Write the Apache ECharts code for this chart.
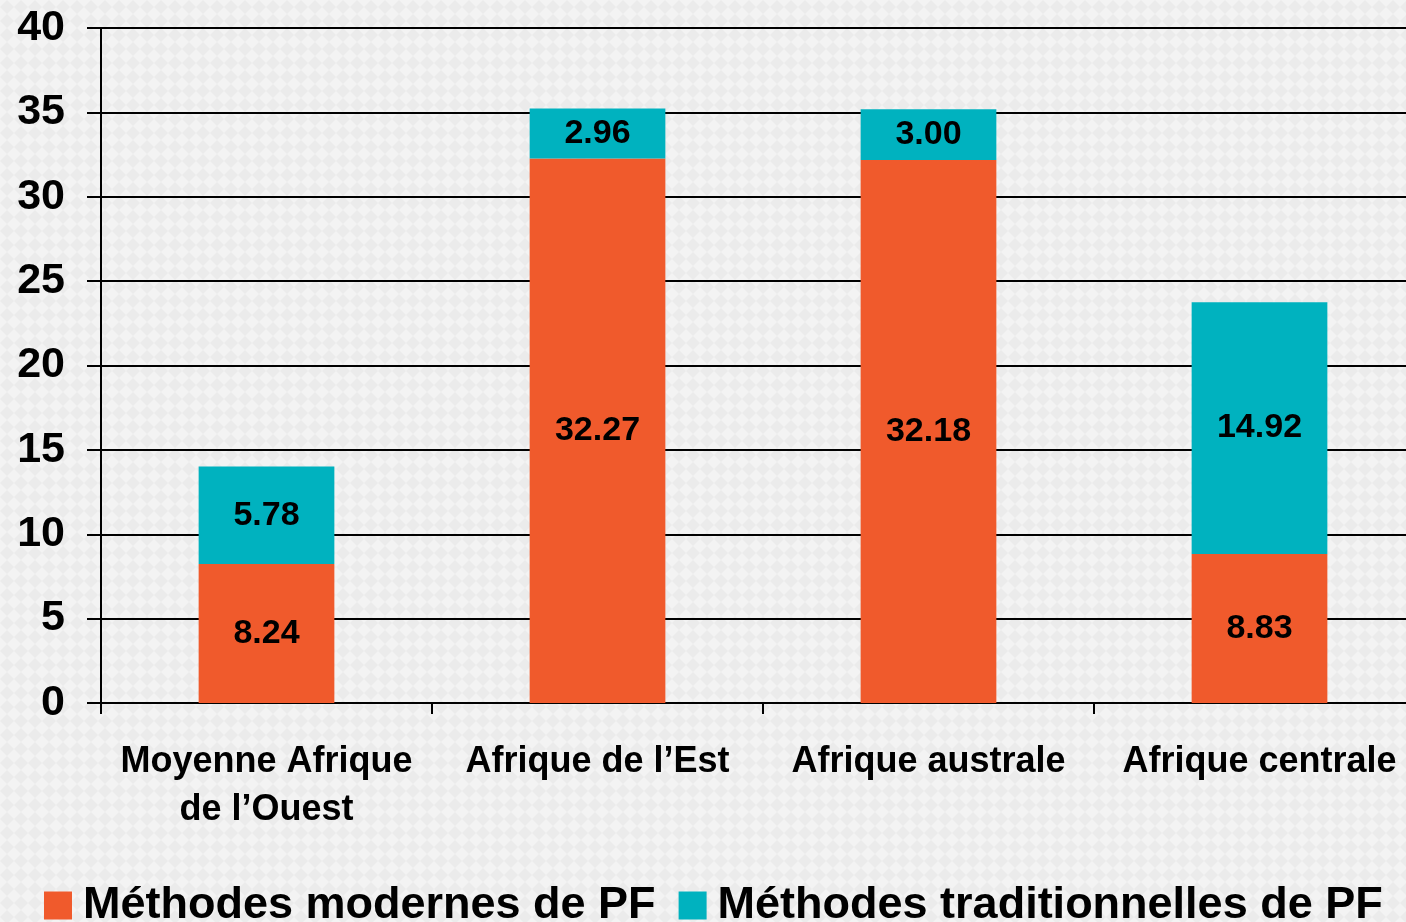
<!DOCTYPE html>
<html lang="fr">
<head>
    <meta charset="UTF-8">
    <title>Méthodes de PF</title>
    <script src="https://cdn.jsdelivr.net/npm/echarts@6/dist/echarts.min.js"></script>
    <style>
        html, body {
            margin: 0;
            height: 100%;
        }
        #main {
            width: 1406px;
            height: 922px;
        }
    </style>
</head>
<body>
<div id="main"></div>
<script>
    // données
    var regions = ['Moyenne Afrique\nde l\u2019Ouest', 'Afrique de l\u2019Est', 'Afrique australe', 'Afrique centrale'];
    var modernes = [8.24, 32.27, 32.18, 8.83];
    var traditionnelles = [5.78, 2.96, 3.00, 14.92];
    var seriesNames = ['Méthodes modernes de PF', 'Méthodes traditionnelles de PF'];

    // petit motif de fond en damier diagonal
    function makePattern() {
        var c = document.createElement('canvas');
        c.width = 14;
        c.height = 14;
        var ctx = c.getContext('2d');
        ctx.fillStyle = '#f3f3f3';
        ctx.fillRect(0, 0, 14, 14);
        ctx.fillStyle = '#ebebeb';
        ctx.beginPath();
        ctx.moveTo(7, 0);
        ctx.lineTo(14, 7);
        ctx.lineTo(7, 14);
        ctx.lineTo(0, 7);
        ctx.closePath();
        ctx.fill();
        return c;
    }

    var myChart = echarts.init(document.getElementById('main'));

    var labelStyle = {
        show: true,
        position: 'inside',
        color: '#000',
        fontFamily: 'Liberation Sans',
        fontWeight: 'bold',
        fontSize: 34,
        padding: [3, 0, 0, 0],
        formatter: function (p) {
            return p.value.toFixed(2);
        }
    };

    var option = {
        backgroundColor: {image: makePattern(), repeat: 'repeat'},
        animation: false,
        textStyle: {fontFamily: 'Liberation Sans'},
        legend: {
            left: 39,
            top: 878,
            itemWidth: 28,
            itemHeight: 28,
            itemGap: 23,
            icon: 'rect',
            textStyle: {
                color: '#000',
                fontSize: 45,
                fontWeight: 'bold',
                fontFamily: 'Liberation Sans',
                padding: [0, 0, 0, 6]
            },
            data: seriesNames
        },
        grid: {
            left: 101,
            top: 28,
            right: -19,
            bottom: 219,
            outerBoundsMode: 'none'
        },
        xAxis: {
            type: 'category',
            data: regions,
            axisLine: {lineStyle: {color: '#000', width: 2}},
            axisTick: {show: true, length: 11, lineStyle: {color: '#000', width: 2}},
            axisLabel: {
                color: '#000',
                fontSize: 36,
                fontWeight: 'bold',
                lineHeight: 48,
                margin: 35,
                interval: 0
            }
        },
        yAxis: {
            type: 'value',
            min: 0,
            max: 40,
            interval: 5,
            axisLine: {show: true, lineStyle: {color: '#000', width: 2}},
            axisTick: {show: true, length: 14, lineStyle: {color: '#000', width: 2}},
            splitLine: {lineStyle: {color: '#000', width: 2}},
            axisLabel: {
                color: '#000',
                fontSize: 43,
                fontWeight: 'bold',
                margin: 36,
                padding: [10, 0, 0, 0]
            }
        },
        series: [{
            name: seriesNames[0],
            type: 'bar',
            stack: 'pf',
            barWidth: '41%',
            itemStyle: {color: '#F05A2C'},
            label: labelStyle,
            data: modernes
        }, {
            name: seriesNames[1],
            type: 'bar',
            stack: 'pf',
            barWidth: '41%',
            itemStyle: {color: '#00B2BF'},
            label: labelStyle,
            data: traditionnelles
        }]
    };

    myChart.setOption(option);
</script>
</body>
</html>
